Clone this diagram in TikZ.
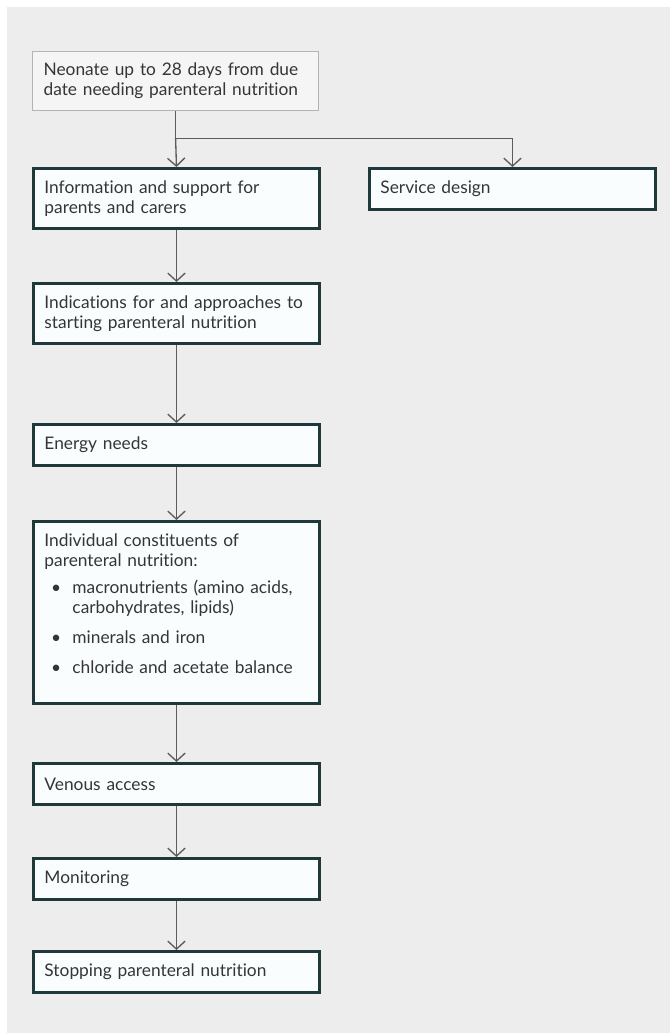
\documentclass[tikz,border=0pt]{standalone}
\usepackage{fontspec}
\setmainfont{Lato}[Ligatures=NoCommon]
\usetikzlibrary{arrows.meta}

\definecolor{panel}{HTML}{EDEDED}
\definecolor{boxfill}{HTML}{FAFDFD}
\definecolor{boxedge}{HTML}{1F393A}
\definecolor{startfill}{HTML}{F5F5F5}
\definecolor{startedge}{HTML}{B4B4B4}
\definecolor{txt}{HTML}{353535}
\definecolor{wire}{HTML}{5C5C5C}

\begin{document}
\begin{tikzpicture}[x=0.75pt, y=-0.75pt,
	every node/.style={font=\fontsize{13}{15}\selectfont, text=txt},
	box/.style={draw=boxedge, line width=2.2pt, fill=boxfill, anchor=north west,
		minimum width=214.5pt, text width=198pt, align=left, inner xsep=8pt, inner ysep=0pt},
	startbox/.style={box, draw=startedge, line width=0.9pt, fill=startfill},
	conn/.style={draw=wire, line width=1pt, -{Straight Barb[length=6pt,width=13pt]}}
]
	% page and grey panel
	\fill[white] (0,0) rectangle (670,1033);
	\fill[panel] (7,7) rectangle (670,1033);

	\node[startbox, minimum height=44.25pt] (neo) at (32,51) {Neonate up to 28 days from due\\date needing parenteral nutrition};
	\node[box, minimum height=45pt] (info) at (32,167) {Information and support for\\parents and carers};
	\node[box, minimum height=30.75pt] (svc) at (368,167) {Service design};
	\node[box, minimum height=45pt] (ind) at (32,282) {Indications for and approaches to\\starting parenteral nutrition};
	\node[box, minimum height=30.75pt] (energy) at (32,423) {Energy needs};
	\node[box, inner ysep=9pt] (indiv) at (32,520) {\parbox[c][118.5pt][t]{198pt}{\raggedright
		Individual constituents of\\
		parenteral nutrition:\\[5.5pt]
		\hspace*{5pt}\makebox[16pt][l]{\textbullet}macronutrients (amino acids,\\
		\hspace*{21pt}carbohydrates, lipids)\\[7.5pt]
		\hspace*{5pt}\makebox[16pt][l]{\textbullet}minerals and iron\\[7.5pt]
		\hspace*{5pt}\makebox[16pt][l]{\textbullet}chloride and acetate balance}};
	\node[box, minimum height=30.75pt] (venous) at (32,762) {Venous access};
	\node[box, minimum height=30.75pt] (mon) at (32,857) {Monitoring};
	\node[box, minimum height=30.75pt] (stop) at (32,950) {Stopping parenteral nutrition};

	% split below the first box
	\path (neo.south) ++(0,27) coordinate (split);
	\draw[wire, line width=1pt] (neo.south) -- (split);
	\draw[conn] (split) -- (info.north);
	\draw[conn] (split) -| (svc.north);

	\foreach \a/\b in {info/ind, ind/energy, energy/indiv, indiv/venous, venous/mon, mon/stop}{
		\draw[conn] (\a.south) -- (\b.north);
	}
\end{tikzpicture}
\end{document}
